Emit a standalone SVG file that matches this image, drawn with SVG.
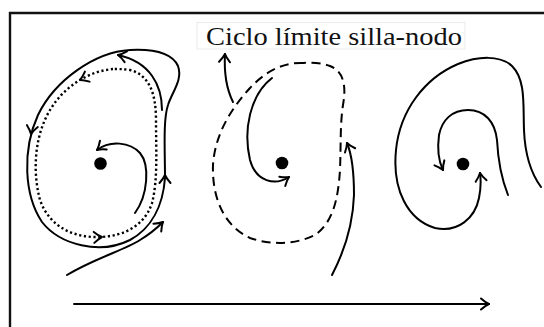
<svg xmlns="http://www.w3.org/2000/svg" xmlns:xlink="http://www.w3.org/1999/xlink" width="544" height="327" viewBox="0 0 544 327">
  <style>
    .orbit { fill: none; stroke: #000; stroke-width: 2; stroke-linecap: round; stroke-linejoin: round; }
    .dotted { stroke-width: 2.4; stroke-dasharray: 2.2 2.6; stroke-linecap: butt; }
    .dashed { stroke-dasharray: 9 5.5; stroke-linecap: butt; }
    .frame { fill: none; stroke: #111; stroke-width: 2.4; }
    .eq { fill: #000; }
    .label { font-family: "Liberation Serif", "DejaVu Serif", serif; font-size: 26px; fill: #111; }
  </style>
  <defs>
    <!-- open "to"-style arrowhead -->
    <marker id="to" markerUnits="userSpaceOnUse" viewBox="-10 -8 12 16" refX="0" refY="0" markerWidth="12" markerHeight="16" orient="auto" overflow="visible">
      <path d="M-8,-5.5 Q-3.5,-1.5 0,0 Q-3.5,1.5 -8,5.5" fill="none" stroke="#000" stroke-width="2" stroke-linecap="round" stroke-linejoin="round"/>
    </marker>
    <path id="chev" d="M-8,-5.5 Q-3.5,-1.5 0,0 Q-3.5,1.5 -8,5.5" fill="none" stroke="#000" stroke-width="2" stroke-linecap="round" stroke-linejoin="round"/>
  </defs>

  <rect width="544" height="327" fill="#fff"/>

  <!-- frame -->
  <g id="frame">
    <path class="frame" d="M10,327 L10,13 L544,13"/>
  </g>

  <!-- title -->
  <g id="label">
    <rect x="197" y="22.5" width="268" height="26.5" fill="#fff" stroke="#e6e6e6" stroke-width="0.8"/>
    <text class="label" x="206" y="45" textLength="256" lengthAdjust="spacingAndGlyphs">Ciclo límite silla-nodo</text>
  </g>

  <!-- stable and unstable cycles before the bifurcation -->
  <g id="left-portrait">
    <path class="orbit" d="M165,178 C165,150 163,120 168,105 C172,92 183,80 178,66 C171,51 150,49 130,50 C95,52 55,80 38,115 C22,150 24,195 42,222 C60,245 100,255 130,240 C152,228 163,205 165,178 Z"/>
    <path class="orbit dotted" d="M113,69 C90,71 65,85 50,110 C35,135 32,170 40,200 C50,228 75,238 100,237 C125,236 145,225 152,203 C158,180 156,150 156,120 C156,95 150,75 130,70 C123,69 118,69 113,69 Z"/>
    <path class="orbit" d="M162,110 C162,85 150,62 118,55" marker-end="url(#to)"/>
    <path class="orbit" d="M135,213 C148,195 150,165 140,153 C130,142 110,140 97,150" marker-end="url(#to)"/>
    <path class="orbit" d="M67,275 C95,258 125,250 140,240 C150,234 157,228 163,222" marker-end="url(#to)"/>
    <use xlink:href="#chev" href="#chev" transform="translate(165,175) rotate(-90)"/>
    <use xlink:href="#chev" href="#chev" transform="translate(31,134) rotate(100)"/>
    <use xlink:href="#chev" href="#chev" transform="translate(80,80) rotate(155)"/>
    <use xlink:href="#chev" href="#chev" transform="translate(102,237) rotate(-3)"/>
    <circle class="eq" cx="100.5" cy="163.5" r="6.3"/>
  </g>

  <!-- semistable cycle at the bifurcation -->
  <g id="middle-portrait">
    <path class="orbit dashed" d="M303,63 C280,62 262,75 250,88 C230,110 215,135 213,165 C212,195 222,225 250,238 C270,245 295,245 315,235 C333,222 338,200 340,170 C341,145 340,125 343,105 C346,88 345,72 330,66 C322,63 312,62 303,63 Z"/>
    <path class="orbit" d="M233,102 C227,90 224,72 225,54" marker-end="url(#to)"/>
    <path class="orbit" d="M272,78 C250,95 243,130 250,160 C256,182 275,186 289,177" marker-end="url(#to)"/>
    <path class="orbit" d="M332,275 C345,250 353,225 354,195 C354,172 352,155 347,143" marker-end="url(#to)"/>
    <circle class="eq" cx="282" cy="163" r="6.3"/>
  </g>

  <!-- no cycle after the bifurcation -->
  <g id="right-portrait">
    <path class="orbit" d="M541,187 C530,172 525,155 524,130 C523,105 526,80 512,66 C500,55 478,56 458,64 C425,78 400,110 396,150 C392,190 408,220 435,228 C458,233 475,218 479,198 C481,188 481,180 480,173" marker-end="url(#to)"/>
    <path class="orbit" d="M508,195 C502,180 498,160 497,140 C495,122 485,110 468,110 C452,110 442,120 439,135 C437,150 439,162 443,170" marker-end="url(#to)"/>
    <circle class="eq" cx="463" cy="164" r="6.3"/>
  </g>

  <!-- parameter axis -->
  <g id="connectors">
    <path class="orbit" d="M74,304 L489,304" marker-end="url(#to)"/>
  </g>
</svg>
